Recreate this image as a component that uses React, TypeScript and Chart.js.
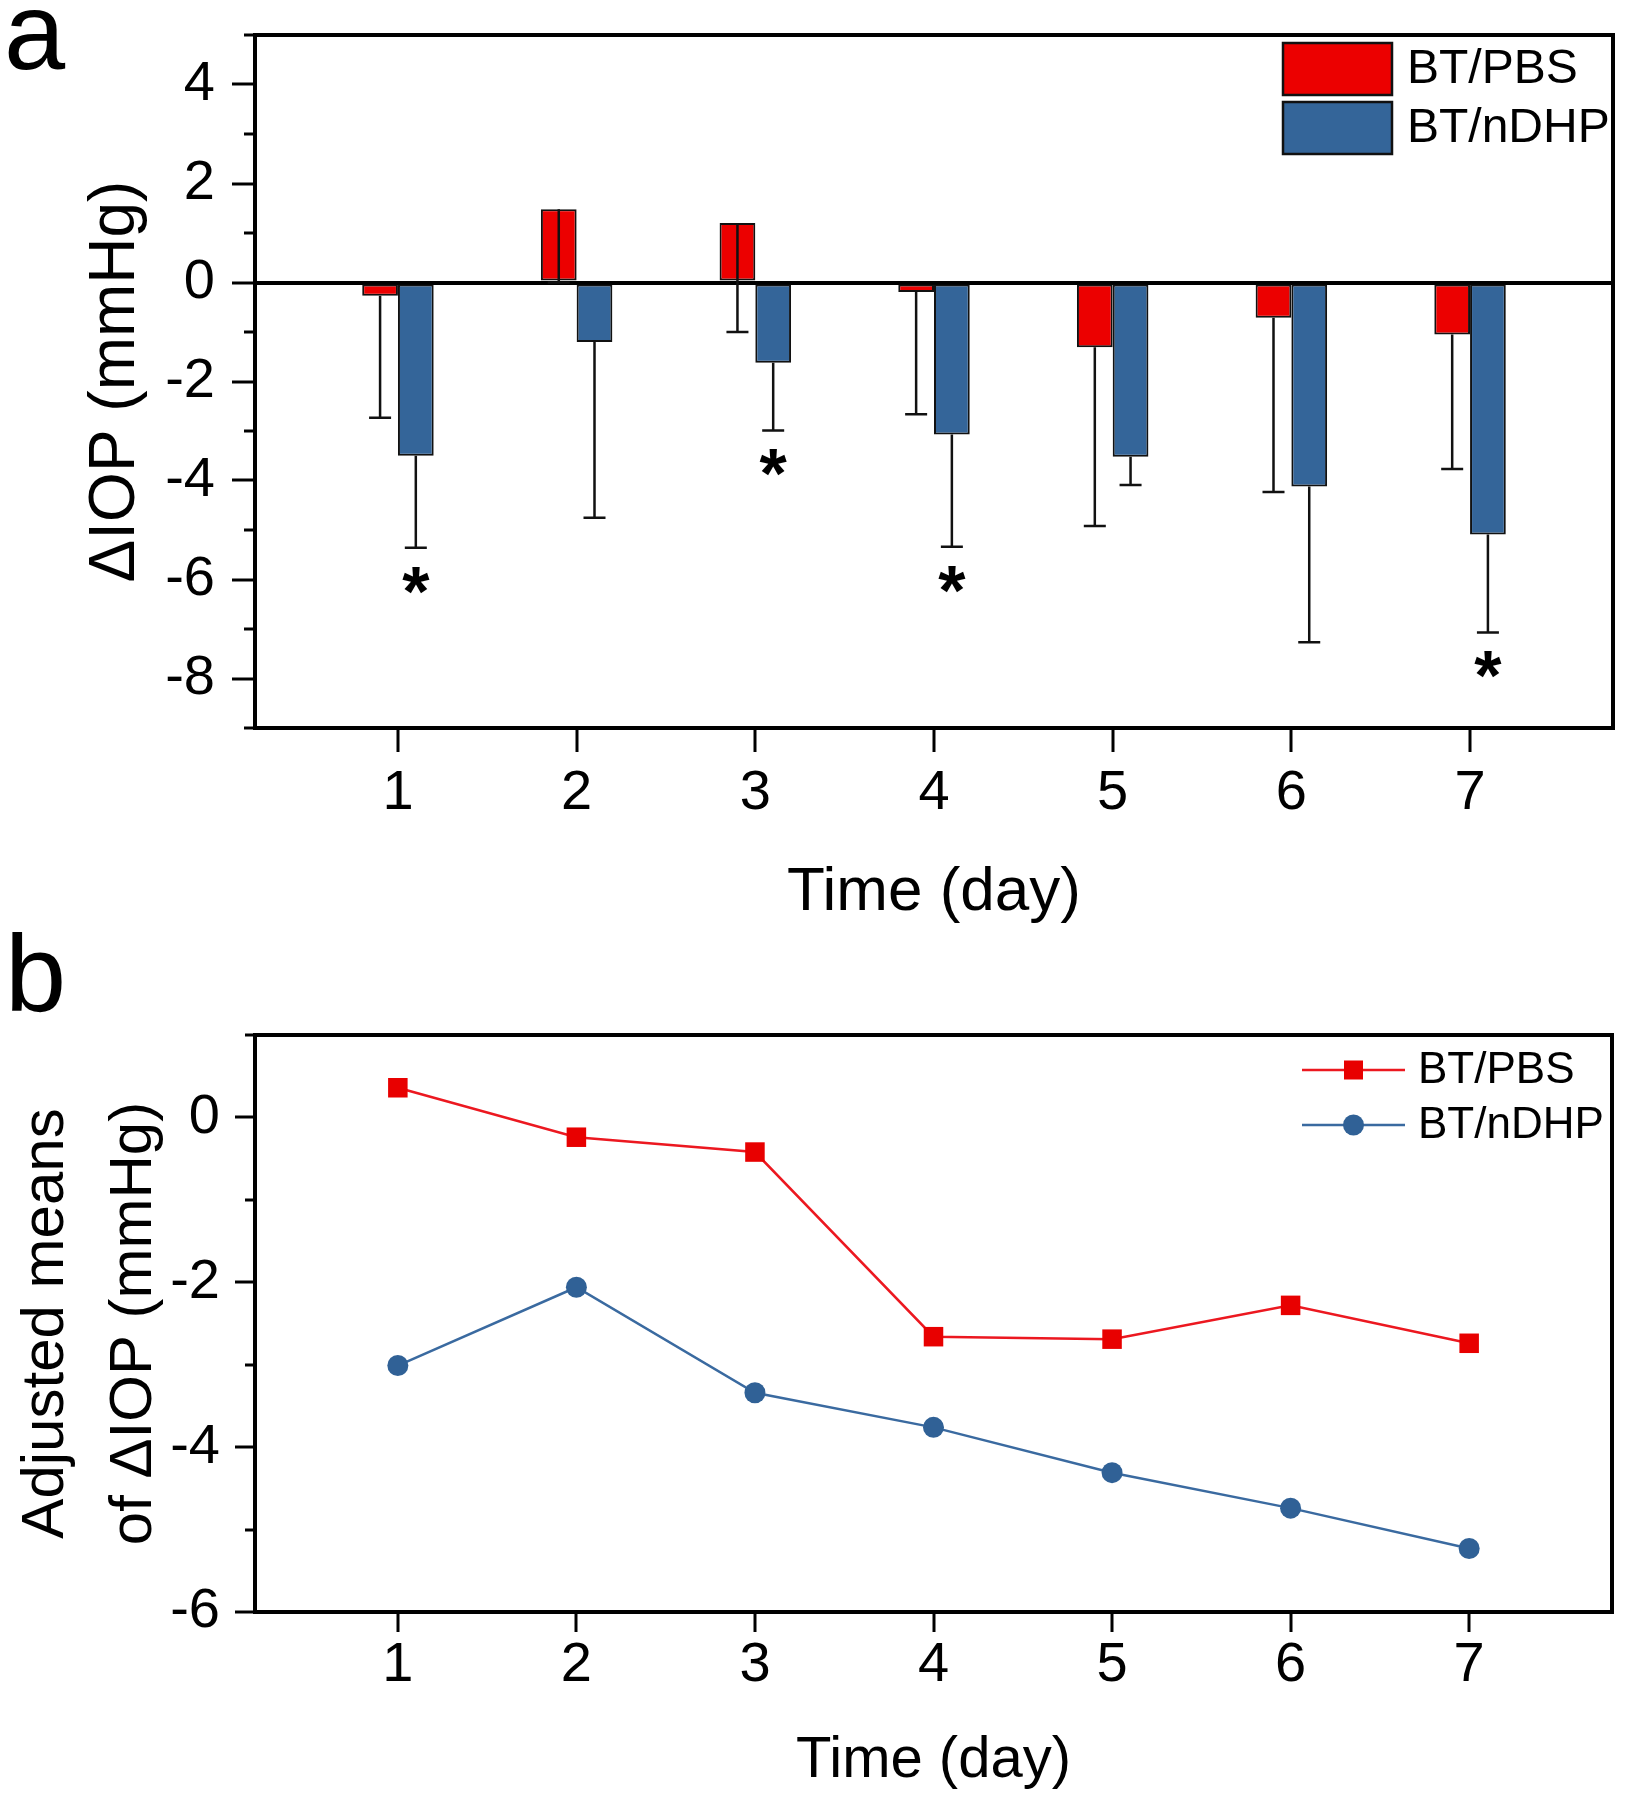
import React, { useEffect, useRef } from 'react';
import { Chart, registerables } from 'chart.js';

Chart.register(...registerables);

const FONT = "'Liberation Sans', Arial, Helvetica, sans-serif";

// ---------- data ----------
const days = [1, 2, 3, 4, 5, 6, 7];
const seriesNames = ['BT/PBS', 'BT/nDHP'];

// Panel a: mean ΔIOP (mmHg) and SD (drawn as lower error bars)
const pbsMean = [-0.27, 1.48, 1.2, -0.19, -1.31, -0.71, -1.05];
const pbsSD = [2.46, 1.48, 2.2, 2.47, 3.61, 3.52, 2.72];
const ndhpMean = [-3.5, -1.2, -1.62, -3.07, -3.52, -4.12, -5.09];
const ndhpSD = [1.86, 3.55, 1.37, 2.27, 0.57, 3.15, 1.98];
const ndhpSignificant = [true, false, true, true, false, false, true];

// Panel b: adjusted means of ΔIOP (mmHg)
const pbsAdjusted = [0.36, -0.24, -0.42, -2.66, -2.69, -2.28, -2.74];
const ndhpAdjusted = [-3.01, -2.06, -3.34, -3.76, -4.31, -4.74, -5.23];

// tick values
const aMajorTicks = [-8, -6, -4, -2, 0, 2, 4];
const aMinorTicks = [-9, -7, -5, -3, -1, 1, 3, 5];
const bMajorTicks = [-6, -4, -2, 0];
const bMinorTicks = [-5, -3, -1, 1];

// ---------- styles ----------
const RED = 'rgb(236,0,0)';
const BLUE = 'rgb(52,101,153)';
const RED_LINE = 'rgb(236,24,32)';
const BLUE_LINE = 'rgb(58,106,160)';
const INK = '#111';

const framePlugin = {
  id: 'frame',
  afterDatasetsDraw(chart: any) {
    const { ctx, chartArea } = chart;
    const { left, right, top, bottom } = chartArea;
    ctx.save();
    ctx.strokeStyle = '#000';
    ctx.lineWidth = 4;
    ctx.lineCap = 'square';
    ctx.beginPath();
    ctx.moveTo(left, top);
    ctx.lineTo(right, top);
    ctx.lineTo(right, bottom);
    ctx.stroke();
    ctx.restore();
  },
};

const errorBarPlugin = {
  id: 'errorBars',
  afterDatasetsDraw(chart: any) {
    const { ctx } = chart;
    const yScale = chart.scales.y;
    chart.data.datasets.forEach((ds: any, di: number) => {
      const sd = ds.errors;
      if (!sd) return;
      const sig = ds.significant;
      const meta = chart.getDatasetMeta(di);
      meta.data.forEach((bar: any, j: number) => {
        const val = ds.data[j].y;
        const endPx = yScale.getPixelForValue(val - sd[j]);
        const x = bar.x;
        ctx.save();
        ctx.strokeStyle = INK;
        ctx.lineWidth = 2.5;
        ctx.beginPath();
        ctx.moveTo(x, bar.y);
        ctx.lineTo(x, endPx);
        ctx.moveTo(x - 11, endPx);
        ctx.lineTo(x + 11, endPx);
        ctx.stroke();
        if (sig && sig[j]) {
          ctx.fillStyle = '#000';
          ctx.font = `bold 70px ${FONT}`;
          ctx.textAlign = 'center';
          ctx.textBaseline = 'alphabetic';
          ctx.fillText('*', x, endPx + 28 + 0.57 * 70);
        }
        ctx.restore();
      });
    });
  },
};

const barLegendPlugin = {
  id: 'barLegend',
  afterDraw(chart: any) {
    const { ctx, chartArea } = chart;
    const x0 = chartArea.right - 330;
    chart.data.datasets.forEach((ds: any, i: number) => {
      const y = chartArea.top + 8 + i * 59;
      ctx.save();
      ctx.fillStyle = ds.backgroundColor;
      ctx.fillRect(x0, y, 109, 52);
      ctx.strokeStyle = INK;
      ctx.lineWidth = 2.5;
      ctx.strokeRect(x0, y, 109, 52);
      ctx.fillStyle = '#000';
      ctx.font = `48px ${FONT}`;
      ctx.textAlign = 'left';
      ctx.textBaseline = 'middle';
      ctx.fillText(ds.label, x0 + 124, y + 27);
      ctx.restore();
    });
  },
};

const lineLegendPlugin = {
  id: 'lineLegend',
  afterDraw(chart: any) {
    const { ctx, chartArea } = chart;
    const x0 = chartArea.right - 310;
    const x1 = chartArea.right - 207;
    const xm = (x0 + x1) / 2;
    chart.data.datasets.forEach((ds: any, i: number) => {
      const y = chartArea.top + 35 + i * 55;
      ctx.save();
      ctx.strokeStyle = ds.borderColor;
      ctx.lineWidth = ds.borderWidth;
      ctx.beginPath();
      ctx.moveTo(x0, y);
      ctx.lineTo(x1, y);
      ctx.stroke();
      ctx.fillStyle = ds.pointBackgroundColor;
      if (ds.pointStyle === 'rect') {
        ctx.fillRect(xm - 9.5, y - 9.5, 19, 19);
      } else {
        ctx.beginPath();
        ctx.arc(xm, y, 10.5, 0, Math.PI * 2);
        ctx.fill();
      }
      ctx.fillStyle = '#000';
      ctx.font = `44px ${FONT}`;
      ctx.textAlign = 'left';
      ctx.textBaseline = 'middle';
      ctx.fillText(ds.label, chartArea.right - 194, y + 1);
      ctx.restore();
    });
  },
};

const tickFont = { family: FONT, size: 56 };
const transparent = 'rgba(0,0,0,0)';

function xAxis(height: number, tickLength: number, pad: number, titleSize: number, titlePadBottom: number) {
  return {
    type: 'linear',
    min: 0.2,
    max: 7.8,
    offset: false,
    afterBuildTicks: (s: any) => {
      s.ticks = days.map((v) => ({ value: v }));
    },
    afterFit: (s: any) => {
      s.height = height;
      s.paddingLeft = 0;
      s.paddingRight = 0;
    },
    grid: {
      display: true,
      offset: false,
      drawOnChartArea: false,
      drawTicks: true,
      tickLength,
      tickWidth: 3,
      tickColor: '#000',
      color: transparent,
      lineWidth: 0,
    },
    border: { display: true, color: '#000', width: 4 },
    ticks: {
      font: tickFont,
      color: '#000',
      padding: pad,
      maxRotation: 0,
      minRotation: 0,
      autoSkip: false,
      callback: (v: any) => String(v),
    },
    title: {
      display: true,
      text: 'Time (day)',
      color: '#000',
      font: { family: FONT, size: titleSize },
      padding: { top: 0, bottom: titlePadBottom },
    },
  };
}

function minorAxis(min: number, max: number, values: number[], tickLength: number) {
  return {
    type: 'linear',
    position: 'left',
    weight: 0,
    min,
    max,
    afterBuildTicks: (s: any) => {
      s.ticks = values.map((v) => ({ value: v }));
    },
    afterFit: (s: any) => {
      s.width = 0;
      s.paddingTop = 0;
      s.paddingBottom = 0;
    },
    grid: {
      display: true,
      drawOnChartArea: false,
      drawTicks: true,
      tickLength,
      tickWidth: 3,
      tickColor: '#000',
      color: transparent,
      lineWidth: 0,
    },
    border: { display: false },
    ticks: { display: false },
  };
}

export default function App() {
  const aRef = useRef<HTMLCanvasElement | null>(null);
  const bRef = useRef<HTMLCanvasElement | null>(null);

  useEffect(() => {
    Chart.defaults.font.family = FONT;
    Chart.defaults.color = '#000';

    const barChart = new Chart(aRef.current as HTMLCanvasElement, {
      type: 'bar',
      data: {
        datasets: [
          {
            label: seriesNames[0],
            data: days.map((d, i) => ({ x: d, y: pbsMean[i] })),
            backgroundColor: RED,
            borderColor: INK,
            borderWidth: 2,
            borderSkipped: false,
            categoryPercentage: 0.4,
            barPercentage: 1.0,
            xAxisID: 'x',
            yAxisID: 'y',
            errors: pbsSD,
          } as any,
          {
            label: seriesNames[1],
            data: days.map((d, i) => ({ x: d, y: ndhpMean[i] })),
            backgroundColor: BLUE,
            borderColor: INK,
            borderWidth: 2,
            borderSkipped: false,
            categoryPercentage: 0.4,
            barPercentage: 1.0,
            xAxisID: 'x',
            yAxisID: 'y',
            errors: ndhpSD,
            significant: ndhpSignificant,
          } as any,
        ],
      },
      options: {
        responsive: false,
        animation: false,
        devicePixelRatio: 1,
        layout: { padding: { top: 35, right: 17, bottom: 0, left: 0 } },
        plugins: { legend: { display: false }, tooltip: { enabled: false } },
        scales: {
          x: xAxis(212, 24, 8, 62, 10) as any,
          y: {
            type: 'linear',
            position: 'left',
            weight: 10,
            min: -9,
            max: 5,
            afterBuildTicks: (s: any) => {
              s.ticks = aMajorTicks.map((v) => ({ value: v }));
            },
            afterFit: (s: any) => {
              s.width = 255;
              s.paddingTop = 0;
              s.paddingBottom = 0;
            },
            grid: {
              display: true,
              drawOnChartArea: true,
              drawTicks: true,
              tickLength: 23,
              tickWidth: 3,
              tickColor: '#000',
              color: (c: any) => (c.tick && c.tick.value === 0 ? '#000' : transparent),
              lineWidth: (c: any) => (c.tick && c.tick.value === 0 ? 4 : 0),
            },
            border: { display: true, color: '#000', width: 4 },
            ticks: {
              font: tickFont,
              color: '#000',
              padding: 17,
              autoSkip: false,
              callback: (v: any) => String(v),
            },
            title: {
              display: true,
              text: 'ΔIOP (mmHg)',
              color: '#000',
              font: { family: FONT, size: 64 },
              padding: { top: 78, bottom: 0 },
            },
          } as any,
          yMinor: minorAxis(-9, 5, aMinorTicks, 11) as any,
        },
      },
      plugins: [errorBarPlugin, framePlugin, barLegendPlugin],
    });

    const lineChart = new Chart(bRef.current as HTMLCanvasElement, {
      type: 'line',
      data: {
        datasets: [
          {
            label: seriesNames[0],
            data: days.map((d, i) => ({ x: d, y: pbsAdjusted[i] })),
            borderColor: RED_LINE,
            borderWidth: 2.5,
            pointStyle: 'rect',
            pointRadius: 13.8,
            pointBackgroundColor: 'rgb(232,0,0)',
            pointBorderWidth: 0,
            tension: 0,
            xAxisID: 'x',
            yAxisID: 'y',
          } as any,
          {
            label: seriesNames[1],
            data: days.map((d, i) => ({ x: d, y: ndhpAdjusted[i] })),
            borderColor: BLUE_LINE,
            borderWidth: 2.5,
            pointStyle: 'circle',
            pointRadius: 10.5,
            pointBackgroundColor: 'rgb(48,97,150)',
            pointBorderWidth: 0,
            tension: 0,
            xAxisID: 'x',
            yAxisID: 'y',
          } as any,
        ],
      },
      options: {
        responsive: false,
        animation: false,
        devicePixelRatio: 1,
        layout: { padding: { top: 115, right: 18, bottom: 0, left: 0 } },
        plugins: { legend: { display: false }, tooltip: { enabled: false } },
        scales: {
          x: xAxis(190, 20, 0, 58, 6) as any,
          y: {
            type: 'linear',
            position: 'left',
            weight: 10,
            min: -6,
            max: 1,
            afterBuildTicks: (s: any) => {
              s.ticks = bMajorTicks.map((v) => ({ value: v }));
            },
            afterFit: (s: any) => {
              s.width = 255;
              s.paddingTop = 0;
              s.paddingBottom = 0;
            },
            grid: {
              display: true,
              drawOnChartArea: false,
              drawTicks: true,
              tickLength: 20,
              tickWidth: 3,
              tickColor: '#000',
              color: transparent,
              lineWidth: 0,
            },
            border: { display: true, color: '#000', width: 4 },
            ticks: {
              font: tickFont,
              color: '#000',
              padding: 15,
              autoSkip: false,
              callback: (v: any) => String(v),
            },
            title: {
              display: true,
              text: ['Adjusted means', 'of ΔIOP (mmHg)'],
              color: '#000',
              font: { family: FONT, size: 60, lineHeight: 1.47 },
              padding: { top: 2, bottom: 0 },
            },
          } as any,
          yMinor: minorAxis(-6, 1, bMinorTicks, 10) as any,
        },
      },
      plugins: [framePlugin, lineLegendPlugin],
    });

    return () => {
      barChart.destroy();
      lineChart.destroy();
    };
  }, []);

  const letterStyle: React.CSSProperties = {
    position: 'absolute',
    font: `110px/1 ${FONT}`,
    color: '#000',
    margin: 0,
  };

  return (
    <div style={{ position: 'absolute', left: 0, top: 0, width: 1630, height: 1802, background: '#fff', overflow: 'hidden' }}>
      <canvas ref={aRef} width={1630} height={940} style={{ position: 'absolute', left: 0, top: 0 }} />
      <canvas ref={bRef} width={1630} height={882} style={{ position: 'absolute', left: 0, top: 920 }} />
      <div style={{ ...letterStyle, left: 4, top: -24 }}>a</div>
      <div style={{ ...letterStyle, left: 5, top: 918 }}>b</div>
    </div>
  );
}
